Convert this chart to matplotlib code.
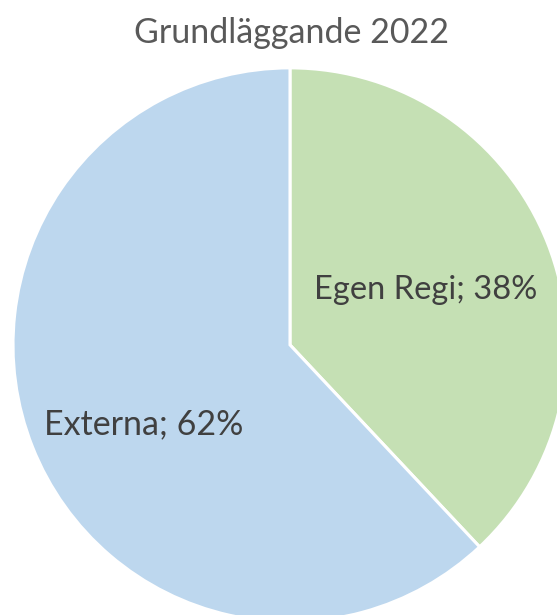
import numpy as np
import matplotlib
matplotlib.use("Agg")
import matplotlib.pyplot as plt

categories = ["Egen Regi", "Externa"]
values = [38, 62]
colors = ["#C5E0B4", "#BDD7EE"]
title = "Grundläggande 2022"

fig = plt.figure(figsize=(5.57, 6.15), dpi=100)
ax = fig.add_axes([0, 0, 1, 1])
wedges, _ = ax.pie(values, colors=colors, startangle=90, counterclock=False,
                   radius=1.0, center=(0, 0),
                   wedgeprops=dict(edgecolor="white", linewidth=2.2))
ax.set_xlim(-1.047, 0.964)
ax.set_ylim(-0.975, 1.245)
ax.set_aspect("auto")
ax.axis("off")

label_pos = [(0.53, 22.0), (0.60, 208.6)]
sizes = [23.5, 24.5]
for w, cat, v, (d, ang), fs in zip(wedges, categories, values, label_pos, sizes):
    a = np.deg2rad(ang)
    ax.text(d * np.cos(a), d * np.sin(a), f"{cat}; {v}%", ha="center", va="center",
            fontsize=fs, color="#404040", family=["Lato", "DejaVu Sans"])

fig.text(292 / 557, 1 - 33 / 615, title, ha="center", va="center",
         fontsize=24.5, color="#595959", family=["Lato", "DejaVu Sans"])

fig.savefig("out.png", dpi=100)
